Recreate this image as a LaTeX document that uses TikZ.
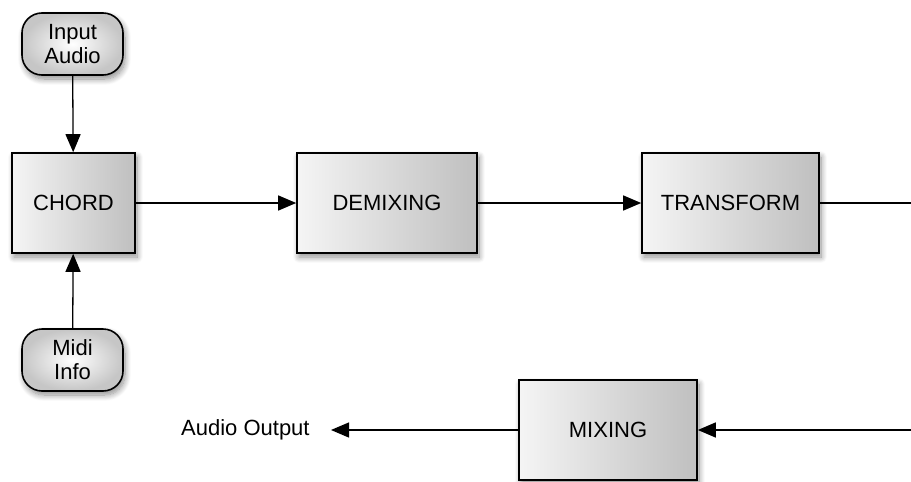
\documentclass[tikz,border=0pt]{standalone}
\usepackage{fontspec}
\setmainfont{Liberation Sans}
\usetikzlibrary{arrows.meta,shadows.blur}
\begin{document}
\begin{tikzpicture}[x=1pt,y=-1pt,
  font=\fontsize{22}{24}\selectfont,
  proc/.style={draw=black,line width=1.6pt,minimum width=#1,minimum height=100pt,inner sep=0pt,
    left color=gray!8,right color=gray!50,
    blur shadow={shadow xshift=2pt,shadow yshift=-4pt,shadow blur steps=10,shadow blur radius=6pt,shadow opacity=45}},
  term/.style={draw=black,line width=1.6pt,minimum width=101pt,minimum height=62pt,inner sep=0pt,
    rounded corners=20pt,align=center,inner color=white,outer color=gray!45,
    blur shadow={shadow xshift=2pt,shadow yshift=-4pt,shadow blur steps=10,shadow blur radius=6pt,shadow opacity=45}},
  conn/.style={line width=1.3pt,-{Triangle[length=18pt,width=15pt]}},
  plain/.style={line width=1.3pt}]
\useasboundingbox (0,0) rectangle (911,482);
\node[proc=123pt] (chord) at (73.5,203) {CHORD};
\node[proc=180pt] (demix) at (387,203) {DEMIXING};
\node[proc=177pt] (trans) at (730.5,203) {TRANSFORM};
\node[proc=178pt] (mix) at (608,430) {MIXING};
\node[term] (in) at (72.5,44) {Input\\Audio};
\node[term] (midi) at (72.5,360) {Midi\\Info};
\node[inner sep=0pt,anchor=west] (out) at (181,430) {Audio Output};
\coordinate (r1) at (912,203);
\coordinate (r2) at (912,430);
\coordinate (outtip) at (331,430);
\draw[conn] (in) -- (chord);
\draw[conn] (midi) -- (chord);
\draw[conn] (chord) -- (demix);
\draw[conn] (demix) -- (trans);
\draw[plain] (trans) -- (r1);
\draw[conn] (r2) -- (mix);
\draw[conn] (mix) -- (outtip);
\end{tikzpicture}
\end{document}
